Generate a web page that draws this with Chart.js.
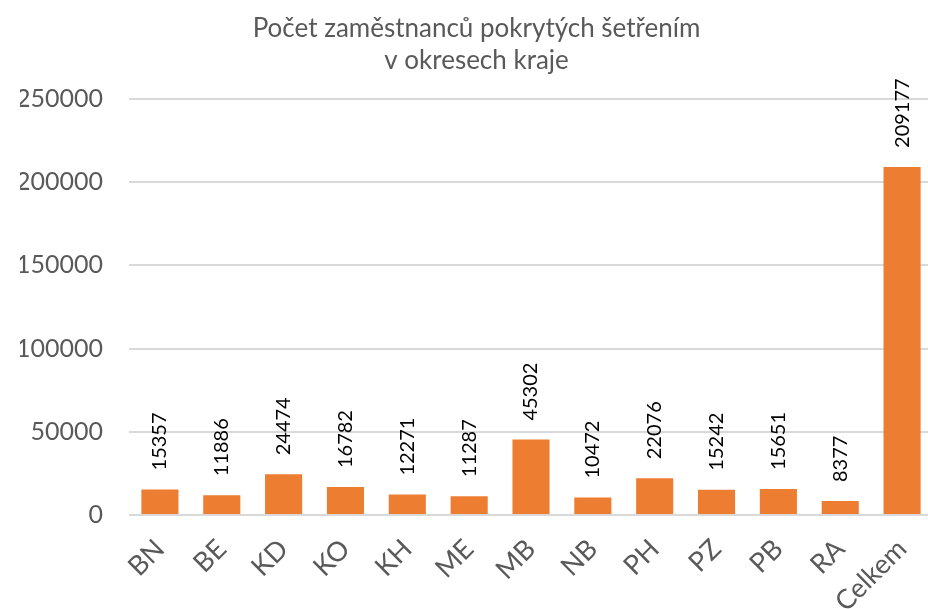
<!DOCTYPE html>
<html>
<head>
<meta charset="utf-8">
<script src="https://cdn.jsdelivr.net/npm/chart.js@4.4.0/dist/chart.umd.min.js"></script>
<style>
    html, body { margin: 0; padding: 0; background: #fff; overflow: hidden; }
    #wrap { position: relative; width: 953px; height: 609px; }
</style>
</head>
<body>
<div id="wrap"><canvas id="bar-chart"></canvas></div>
<script>
const districts = ['BN', 'BE', 'KD', 'KO', 'KH', 'ME', 'MB', 'NB', 'PH', 'PZ', 'PB', 'RA', 'Celkem'];
const employees = [15357, 11886, 24474, 16782, 12271, 11287, 45302, 10472, 22076, 15242, 15651, 8377, 209177];
const titleLines = ['Počet zaměstnanců pokrytých šetřením', 'v okresech kraje'];
const yTicks = [0, 50000, 100000, 150000, 200000, 250000];

const fontName = 'Lato, "Open Sans", sans-serif';

// numbers written vertically above each bar
const barLabels = {
    id: 'barLabels',
    afterDatasetsDraw(chart) {
        const ctx = chart.ctx;
        const meta = chart.getDatasetMeta(0);
        ctx.save();
        ctx.fillStyle = '#000000';
        ctx.font = '20px ' + fontName;
        ctx.textAlign = 'left';
        ctx.textBaseline = 'middle';
        meta.data.forEach((bar, i) => {
            ctx.save();
            ctx.translate(bar.x, bar.y - 19);
            ctx.rotate(-Math.PI / 2);
            ctx.fillText(String(employees[i]), 0, 0);
            ctx.restore();
        });
        ctx.restore();
    }
};

const ctx = document.getElementById('bar-chart').getContext('2d');
window.myBarChart = new Chart(ctx, {
    type: 'bar',
    data: {
        labels: districts,
        datasets: [{
            label: 'Počet zaměstnanců',
            data: employees,
            backgroundColor: '#ED7D31',
            borderWidth: 0,
            barPercentage: 0.6,
            categoryPercentage: 1.0,
        }],
    },
    options: {
        responsive: true,
        maintainAspectRatio: false,
        animation: false,
        layout: {
            padding: { left: 20, right: 20, top: 6, bottom: 0 }
        },
        scales: {
            x: {
                grid: { display: false, drawTicks: false },
                border: { display: false },
                ticks: {
                    color: '#595959',
                    font: { family: fontName, size: 27 },
                    minRotation: 45,
                    maxRotation: 45,
                    padding: 18,
                },
                afterFit(scale) { scale.height = 94; },
            },
            y: {
                min: 0,
                max: 250000,
                afterBuildTicks(scale) {
                    scale.ticks = yTicks.map(v => ({ value: v }));
                },
                grid: { color: '#d9d9d9', lineWidth: 2, drawTicks: false },
                border: { display: false },
                ticks: {
                    color: '#595959',
                    font: { family: fontName, size: 25 },
                    padding: 26,
                    callback: (v) => String(v),
                },
                afterFit(scale) { scale.width = 109; },
            },
        },
        plugins: {
            legend: { display: false },
            tooltip: { enabled: false },
            title: {
                display: true,
                text: titleLines,
                color: '#595959',
                font: { family: fontName, size: 26, weight: 'normal', lineHeight: 1.25 },
                padding: { top: 6, bottom: 22 },
            },
        },
    },
    plugins: [barLabels],
});
</script>
</body>
</html>
